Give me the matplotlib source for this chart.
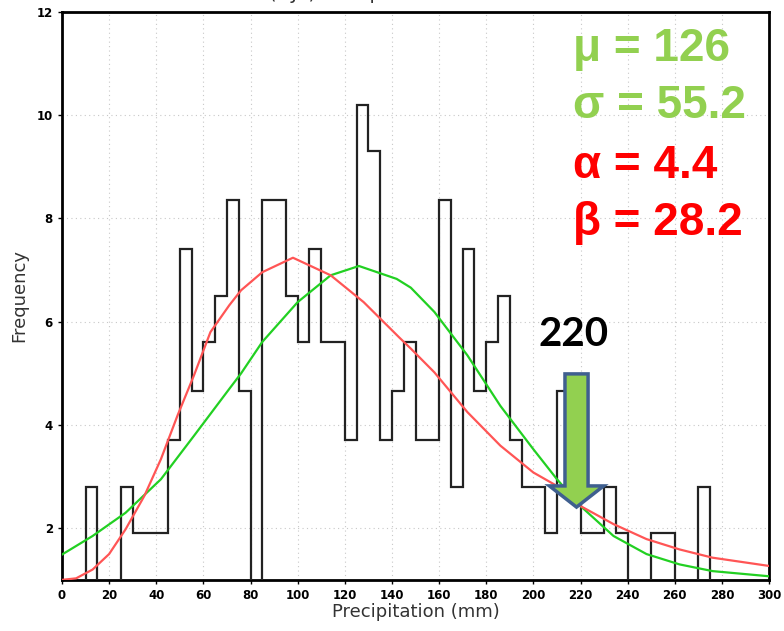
import matplotlib.pyplot as plt
from matplotlib.patches import FancyArrow
import numpy as np

# histogram: 5 mm bins from 0 to 300, frequency
bin_edges = np.arange(0, 305, 5)
freq = [0, 0, 2.8, 0, 0, 2.8, 1.9, 1.9, 1.9, 3.7,
        7.4, 4.65, 5.6, 6.5, 8.35, 4.65, 0, 8.35, 8.35, 6.5,
        5.6, 7.4, 5.6, 5.6, 3.7, 10.2, 9.3, 3.7, 4.65, 5.6,
        3.7, 3.7, 8.35, 2.8, 7.4, 4.65, 5.6, 6.5, 3.7, 2.8,
        2.8, 1.9, 4.65, 4.65, 1.9, 1.9, 2.8, 1.9, 0, 0,
        1.9, 1.9, 0, 0, 2.8, 0, 0, 0, 0, 0]

# fitted normal curve (green)
norm_x = [0, 13, 27, 42, 56, 71, 76, 85, 100, 114, 126, 142, 148,
          158, 172, 186, 200, 210, 220, 234, 248, 262, 276, 300]
norm_y = [1.49, 1.85, 2.30, 2.95, 3.79, 4.70, 5.0, 5.61, 6.38, 6.90, 7.08, 6.83, 6.66,
          6.19, 5.35, 4.37, 3.53, 2.95, 2.43, 1.85, 1.50, 1.30, 1.17, 1.07]

# fitted gamma curve (red)
gamma_x = [0, 6, 13, 20, 27, 35, 42, 49, 56, 63, 71, 76, 85, 98, 114, 128,
           143, 148, 158, 172, 186, 200, 210, 220, 234, 248, 262, 276, 300]
gamma_y = [1.0, 1.03, 1.20, 1.50, 1.98, 2.63, 3.34, 4.18, 4.96, 5.80, 6.32, 6.61, 6.96, 7.24,
           6.90, 6.38, 5.70, 5.48, 5.02, 4.25, 3.60, 3.08, 2.82, 2.43, 2.08, 1.79, 1.59, 1.43, 1.27]

xticks = np.arange(0, 320, 20)
yticks = [2, 4, 6, 8, 10, 12]

fig = plt.figure(figsize=(7.84, 6.31), dpi=100)
ax = fig.add_axes([0.079, 0.081, 0.902, 0.900])

ax.stairs(freq, bin_edges, color="#222222", linewidth=1.6, zorder=3)
ax.plot(norm_x, norm_y, color="#22d022", linewidth=1.6, zorder=4)
ax.plot(gamma_x, gamma_y, color="#ff5555", linewidth=1.6, zorder=4)

ax.set_xlim(0, 300)
ax.set_ylim(1, 12)
ax.set_xticks(xticks)
ax.set_yticks(yticks)
ax.tick_params(labelsize=8.5, length=3, width=1, direction="out")
for lab in ax.get_xticklabels() + ax.get_yticklabels():
    lab.set_fontweight("bold")
ax.grid(True, color="#c8c8c8", linestyle=(0, (1, 3)), linewidth=0.8)
for s in ax.spines.values():
    s.set_linewidth(2)

ax.set_xlabel("Precipitation (mm)", fontsize=13, color="#333333", labelpad=1)
ax.set_ylabel("Frequency", fontsize=13, color="#333333", labelpad=6)

# title sits mostly above the visible area
fig.text(0.53, 1.011, "(DJF) Precipitation: 1980-2010", ha="center", va="center",
         fontsize=14, color="#333333")

# fit parameters
green = "#92d050"
red = "#ff0000"
font = dict(fontsize=33, fontweight="bold", family="Liberation Sans", ha="left", va="center")
ax.text(0.723, 0.934, "\u03bc = 126", color=green, transform=ax.transAxes, **font)
ax.text(0.723, 0.834, "\u03c3 = 55.2", color=green, transform=ax.transAxes, **font)
ax.text(0.723, 0.728, "\u03b1 = 4.4", color=red, transform=ax.transAxes, **font)
ax.text(0.723, 0.628, "\u03b2 = 28.2", color=red, transform=ax.transAxes, **font)

# marker for 220 mm
ax.text(217, 5.75, "220", fontsize=29, fontweight="bold", family="Lato",
        ha="center", va="center", color="black", zorder=6)
arrow = FancyArrow(218.3, 4.99, 0, -2.58, width=9.8, head_width=23, head_length=0.41,
                   length_includes_head=True, facecolor=green, edgecolor="#3f5f8f",
                   linewidth=2.5, zorder=5)
ax.add_patch(arrow)

fig.savefig("out.png", dpi=100)
